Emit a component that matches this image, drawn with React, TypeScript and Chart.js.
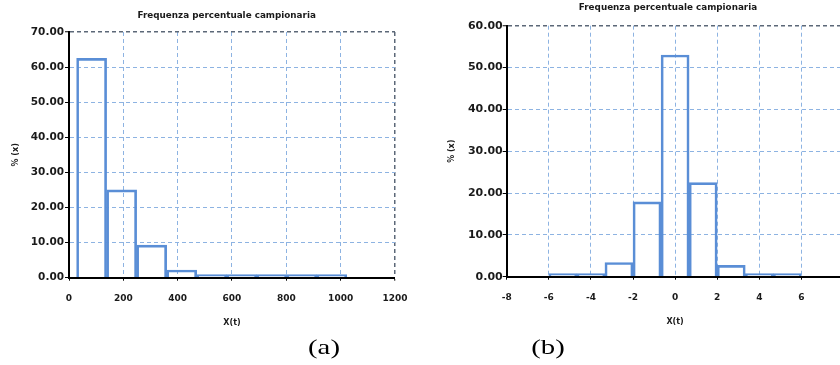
import React, { useEffect, useRef } from 'react';
import { Chart, registerables } from 'chart.js';

Chart.register(...registerables);

// ---------- data ----------
const TITLE = 'Frequenza percentuale campionaria';
const Y_TITLE = '% (x)';
const X_TITLE = 'X(t)';
const PANEL_A = '(a)';
const PANEL_B = '(b)';

// panel (a)
const binCentersA = [83.25, 193.75, 304.25, 414.75, 525.25, 635.75, 746.25, 856.75, 967.25];
const freqA = [62.5, 25.0, 9.3, 2.2, 0.6, 0.3, 0.1, 0.05, 0.05];
const xMinA = 0;
const xMaxA = 1200;
const xStepA = 200;
const yMinA = 0;
const yMaxA = 70;
const yStepA = 10;

// panel (b)
const binCentersB = [-5.333, -4, -2.667, -1.333, 0, 1.333, 2.667, 4, 5.333];
const freqB = [0.3, 0.05, 3.4, 17.9, 53.0, 22.5, 2.7, 0.05, 0.3];
const xMinB = -8;
const xMaxB = 8;
const xStepB = 2;
const yMinB = 0;
const yMaxB = 60;
const yStepB = 10;

// ---------- styles ----------
const FONT = "'DejaVu Sans', sans-serif";
const BAR_COLOR = '#5a8ed6';
const GRID_COLOR = '#8db3e2';
const FRAME_COLOR = '#5c6878';
const TEXT_COLOR = '#1a1a1a';

type Layout = {
  padL: number;
  padR: number;
  padT: number;
  padB: number;
  yWidth: number;
  xHeight: number;
  yFont: number;
  yPad: number;
  xPad: number;
};

function makeConfig(
  centers: number[],
  freq: number[],
  xMin: number,
  xMax: number,
  xStep: number,
  yMin: number,
  yMax: number,
  yStep: number,
  L: Layout
): any {
  const gridColor = (max: number) => (ctx: any) =>
    ctx.tick && ctx.tick.value === max ? FRAME_COLOR : GRID_COLOR;
  const gridWidth = (max: number) => (ctx: any) =>
    ctx.tick && ctx.tick.value === max ? 1.5 : 1;
  return {
    type: 'bar',
    data: {
      datasets: [
        {
          data: centers.map((x, i) => ({ x, y: freq[i] })),
          backgroundColor: 'rgba(0,0,0,0)',
          borderColor: BAR_COLOR,
          borderWidth: 2,
          barPercentage: 1,
          categoryPercentage: 1,
          minBarLength: 3,
        },
      ],
    },
    options: {
      responsive: false,
      animation: false,
      events: [],
      layout: { padding: { left: L.padL, right: L.padR, top: L.padT, bottom: L.padB } },
      plugins: {
        legend: { display: false },
        tooltip: { enabled: false },
        title: { display: false },
      },
      scales: {
        x: {
          type: 'linear',
          min: xMin,
          max: xMax,
          offset: false,
          afterFit: (s: any) => {
            s.height = L.xHeight;
          },
          ticks: {
            stepSize: xStep,
            padding: L.xPad,
            autoSkip: false,
            maxRotation: 0,
            color: TEXT_COLOR,
            font: { family: FONT, size: 9, weight: 'bold' },
            callback: (v: any) => String(v),
          },
          grid: {
            offset: false,
            color: gridColor(xMax),
            lineWidth: gridWidth(xMax),
            tickColor: '#000',
            tickLength: 3,
            tickWidth: 1,
            tickBorderDash: [],
          },
          border: { display: true, color: '#000', width: 2, dash: [4, 3], z: 1 },
          title: {
            display: true,
            text: X_TITLE,
            color: TEXT_COLOR,
            font: { family: FONT, size: 8, weight: 'bold' },
            padding: { top: 0, bottom: 0 },
          },
        },
        y: {
          type: 'linear',
          min: yMin,
          max: yMax,
          afterFit: (s: any) => {
            s.width = L.yWidth;
          },
          ticks: {
            stepSize: yStep,
            padding: L.yPad,
            color: TEXT_COLOR,
            font: { family: FONT, size: L.yFont, weight: 'bold' },
            callback: (v: any) => Number(v).toFixed(2),
          },
          grid: {
            color: gridColor(yMax),
            lineWidth: gridWidth(yMax),
            tickColor: '#000',
            tickLength: 4,
            tickWidth: 1,
            tickBorderDash: [],
          },
          border: { display: true, color: '#000', width: 2, dash: [4, 3], z: 1 },
          title: {
            display: true,
            text: Y_TITLE,
            color: TEXT_COLOR,
            font: { family: FONT, size: 8, weight: 'bold' },
            padding: { top: 0, bottom: 0 },
          },
        },
      },
    },
  };
}

const layoutA: Layout = {
  padL: 11,
  padR: 20,
  padT: 32,
  padB: 17.5,
  yWidth: 58,
  xHeight: 49.8,
  yFont: 10.5,
  yPad: 1,
  xPad: 12.5,
};

const layoutB: Layout = {
  padL: 27.2,
  padR: 16.5,
  padT: 25.7,
  padB: 18.5,
  yWidth: 59.5,
  xHeight: 49.8,
  yFont: 11,
  yPad: 0,
  xPad: 12.5,
};

export default function App() {
  const refA = useRef<HTMLCanvasElement>(null);
  const refB = useRef<HTMLCanvasElement>(null);

  useEffect(() => {
    const a = new Chart(
      refA.current as HTMLCanvasElement,
      makeConfig(binCentersA, freqA, xMinA, xMaxA, xStepA, yMinA, yMaxA, yStepA, layoutA)
    );
    const b = new Chart(
      refB.current as HTMLCanvasElement,
      makeConfig(binCentersB, freqB, xMinB, xMaxB, xStepB, yMinB, yMaxB, yStepB, layoutB)
    );
    return () => {
      a.destroy();
      b.destroy();
    };
  }, []);

  const titleStyle = (cx: number, cy: number): React.CSSProperties => ({
    position: 'absolute',
    left: cx - 150,
    top: cy - 6,
    width: 300,
    height: 12,
    lineHeight: '12px',
    textAlign: 'center',
    fontFamily: FONT,
    fontWeight: 'bold',
    fontSize: 8.8,
    color: TEXT_COLOR,
    whiteSpace: 'nowrap',
  });

  const panelStyle = (cx: number, cy: number): React.CSSProperties => ({
    position: 'absolute',
    left: cx - 40,
    top: cy - 13,
    width: 80,
    height: 26,
    lineHeight: '26px',
    textAlign: 'center',
    fontFamily: "'Liberation Serif', serif",
    fontSize: 21,
    color: '#000',
    transform: 'scaleX(1.37)',
    whiteSpace: 'nowrap',
  });

  return (
    <div
      style={{
        position: 'fixed',
        left: 0,
        top: 0,
        width: 840,
        height: 365,
        overflow: 'hidden',
        background: '#fff',
      }}
    >
      <canvas
        ref={refA}
        width={420}
        height={345}
        style={{ position: 'absolute', left: 0, top: 0, width: 420, height: 345 }}
      />
      <canvas
        ref={refB}
        width={440}
        height={345}
        style={{ position: 'absolute', left: 420, top: 0, width: 440, height: 345 }}
      />
      <div style={titleStyle(226.7, 14.7)}>{TITLE}</div>
      <div style={titleStyle(668, 6.7)}>{TITLE}</div>
      <div style={panelStyle(324, 347)}>{PANEL_A}</div>
      <div style={panelStyle(548, 347)}>{PANEL_B}</div>
    </div>
  );
}
